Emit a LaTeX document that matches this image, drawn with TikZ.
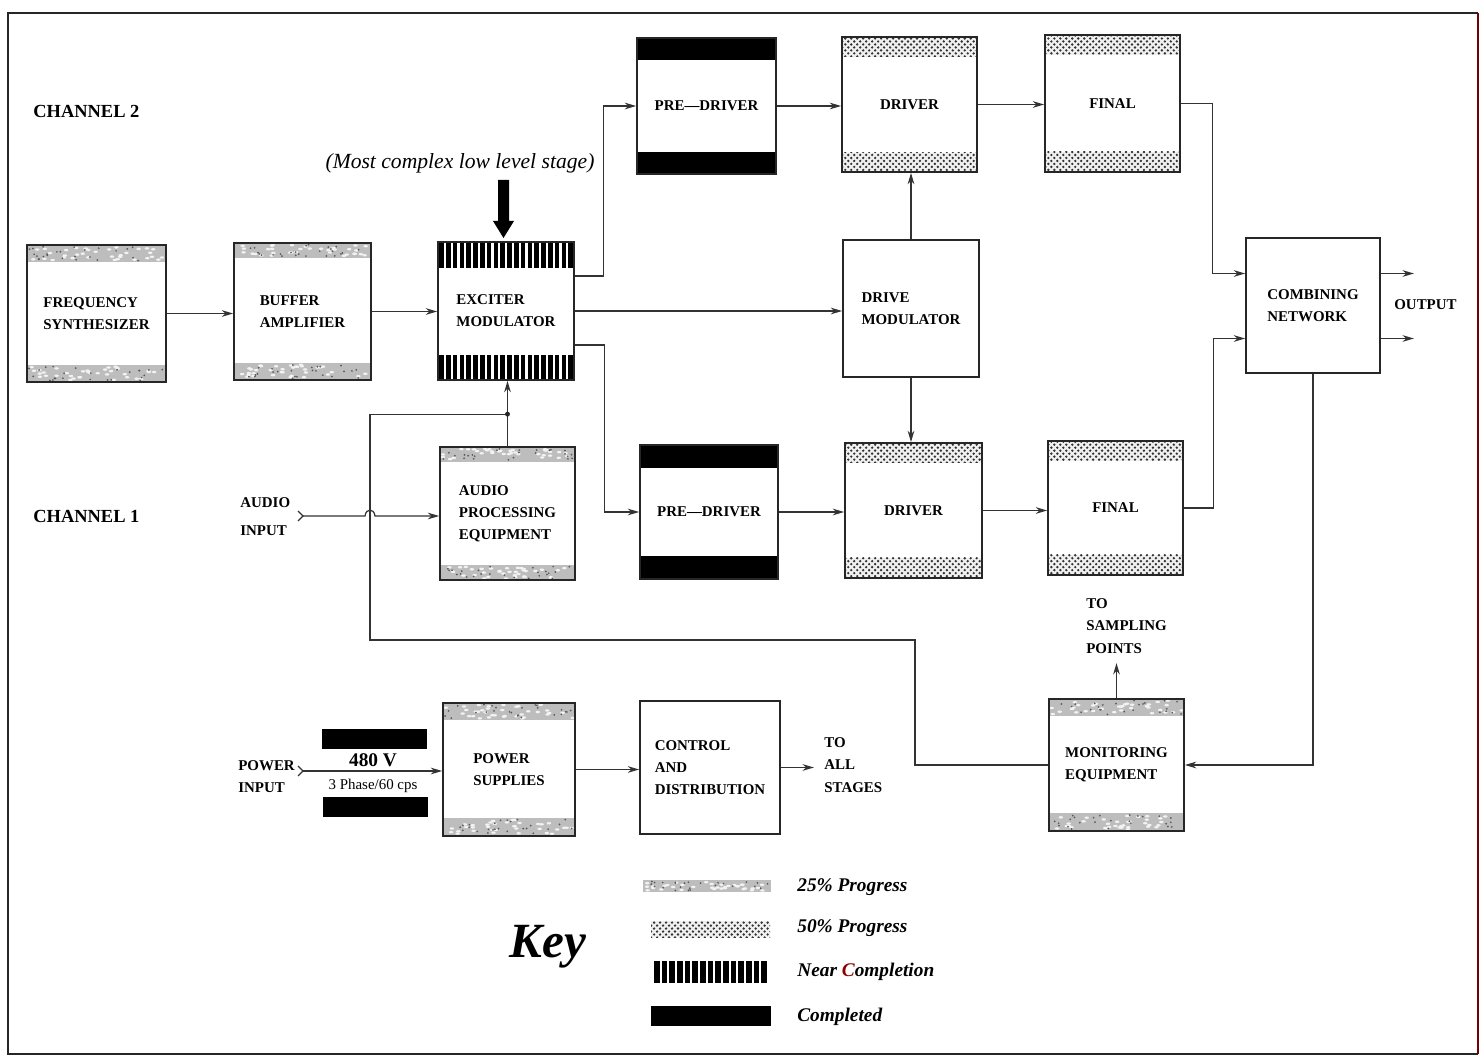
\documentclass[tikz,border=0pt]{standalone}
\usepackage{fontspec}
\setmainfont{Liberation Serif}
\usetikzlibrary{arrows.meta,calc,patterns}
\pgfdeclarepatternformonly{bigdots}{\pgfqpoint{-1pt}{-1pt}}{\pgfqpoint{4pt}{4pt}}{\pgfqpoint{3.4pt}{3.4pt}}{%
  \pgfpathcircle{\pgfqpoint{0pt}{0pt}}{0.75pt}%
  \pgfpathcircle{\pgfqpoint{1.7pt}{1.7pt}}{0.75pt}%
  \pgfusepath{fill}}
\newcommand\boxfont{\bfseries\fontsize{8.5}{12.6}\selectfont}
\newcommand\chfont{\bfseries\fontsize{10.5}{12}\selectfont}
\newcommand\keyfont{\bfseries\itshape\fontsize{11}{13}\selectfont}
% 25% progress band (grainy grey)
\newcommand\bandA[4]{\fill[gray!52] (#1,#2) rectangle (#3,#4);
  \foreach \k in {1,...,35}{\pgfmathsetmacro\rx{#1+2+rnd*(#3-#1-4)}\pgfmathsetmacro\ry{#2+1.5+rnd*(#4-#2-3)}%
    \fill[white!90!gray] (\rx,\ry) ellipse (1.3pt and 0.7pt);}
  \foreach \k in {1,...,25}{\pgfmathsetmacro\rx{#1+2+rnd*(#3-#1-4)}\pgfmathsetmacro\ry{#2+1.5+rnd*(#4-#2-3)}%
    \fill[black!65] (\rx,\ry) circle (0.55pt);}}
% 50% progress band (dots)
\newcommand\bandB[4]{\fill[gray!12] (#1,#2) rectangle (#3,#4);
  \fill[pattern=bigdots, pattern color=black!80] (#1,#2) rectangle (#3,#4);}
% near completion band (vertical stripes)
\newcommand\bandC[5]{\pgfmathsetmacro\stpw{(#3-#1)/#5}%
  \foreach \i in {1,...,#5}{\fill[black] ({#1+(\i-1)*\stpw+1.1},#2) rectangle ({#1+\i*\stpw-1.1},#4);}}
% completed band
\newcommand\bandD[4]{\fill[black] (#1,#2) rectangle (#3,#4);}
\newcommand\mkbox[6]{\node[blk, minimum width={(#4-#2)*0.02cm}, minimum height={(#5-#3)*0.02cm}] (#1) at ({(#2+#4)/2},{(#3+#5)/2}) {#6};}
\begin{document}
\begin{tikzpicture}[x=0.02cm,y=-0.02cm,
  blk/.style={draw=black!85, line width=1pt, inner sep=0pt, align=left, font=\boxfont},
  conn/.style={draw=black!80, line width=0.7pt, -{Stealth[length=6.5pt,width=3.8pt]}},
  wire/.style={draw=black!80, line width=0.7pt},
  lbl/.style={font=\boxfont, align=left, inner sep=0pt, anchor=west},
]
\pgfmathsetseed{7}
\useasboundingbox (0,0) rectangle (1482,1057);
\fill[white] (0,0) rectangle (1482,1057);
% frame
\draw[line width=1.1pt, black!85] (1478,13) -- (8,13) -- (8,1054) -- (1478,1054);
\draw[line width=1.1pt, red!45!black] (1478,13) -- (1478,1054);

% ---- progress bands ----
\bandA{27}{245}{166}{262}\bandA{27}{365}{166}{382}
\bandA{234}{243}{371}{258}\bandA{234}{363}{371}{380}
\bandC{438}{242}{574}{268}{20}\bandC{438}{355}{574}{380}{20}
\bandD{637}{38}{776}{60}\bandD{637}{152}{776}{174}
\bandB{842}{37}{977}{57}\bandB{842}{153}{977}{172}
\bandB{1045}{35}{1180}{55}\bandB{1045}{152}{1180}{172}
\bandA{440}{447}{575}{462}\bandA{440}{565}{575}{580}
\bandD{640}{445}{778}{468}\bandD{640}{556}{778}{579}
\bandB{845}{443}{982}{463}\bandB{845}{558}{982}{578}
\bandB{1048}{441}{1183}{461}\bandB{1048}{555}{1183}{575}
\bandA{443}{703}{575}{720}\bandA{443}{818}{575}{836}
\bandA{1049}{699}{1184}{716}\bandA{1049}{813}{1184}{831}

% ---- boxes ----
\mkbox{fs}{27}{245}{166}{382}{FREQUENCY\\SYNTHESIZER}
\mkbox{ba}{234}{243}{371}{380}{BUFFER\\AMPLIFIER}
\mkbox{em}{438}{242}{574}{380}{EXCITER\\MODULATOR}
\mkbox{pdb}{637}{38}{776}{174}{PRE—DRIVER}
\mkbox{drb}{842}{37}{977}{172}{DRIVER}
\mkbox{fnb}{1045}{35}{1180}{172}{FINAL}
\mkbox{dm}{843}{240}{979}{377}{DRIVE\\MODULATOR}
\mkbox{cn}{1246}{238}{1380}{373}{COMBINING\\NETWORK}
\mkbox{ap}{440}{447}{575}{580}{AUDIO\\PROCESSING\\EQUIPMENT}
\mkbox{pda}{640}{445}{778}{579}{PRE—DRIVER}
\mkbox{dra}{845}{443}{982}{578}{DRIVER}
\mkbox{fna}{1048}{441}{1183}{575}{FINAL}
\mkbox{ps}{443}{703}{575}{836}{POWER\\SUPPLIES}
\mkbox{cd}{640}{701}{780}{834}{CONTROL\\AND\\DISTRIBUTION}
\mkbox{me}{1049}{699}{1184}{831}{MONITORING\\EQUIPMENT}

% ---- labels ----
\node[lbl, font=\chfont] (ch2) at (33,111) {CHANNEL 2};
\node[lbl, font=\chfont] (ch1) at (33,516) {CHANNEL 1};
\node[inner sep=0pt, font=\itshape\fontsize{12.3}{14}\selectfont] (note) at (460,163) {(Most complex low level stage)};
\node[lbl] (audin) at (240,517) {AUDIO\\[3.3pt]INPUT};
\node[lbl] (powin) at (238,777) {POWER\\INPUT};
\node[lbl] (out) at (1394,305) {OUTPUT};
\node[lbl] (tall) at (824,765) {TO\\ALL\\STAGES};
\node[lbl] (tsmp) at (1086,626) {TO\\SAMPLING\\POINTS};
\node[inner sep=0pt, font=\bfseries\fontsize{11}{13}\selectfont] (v480) at (373,760) {480 V};
\node[inner sep=0pt, font=\fontsize{8.5}{10}\selectfont] (phase) at (373,786) {3 Phase/60 cps};
\fill[black] (322,729) rectangle (427,749);
\fill[black] (323,797) rectangle (428,817);

% big arrow to exciter
\fill[black] (498,180) -- (509,180) -- (509,221) -- (514,221) -- (503.5,238) -- (493,221) -- (498,221) -- cycle;

% ---- connectors ----
\draw[conn] (fs.east) -- (fs.east -| ba.west);
\draw[conn] (ba.east) -- (ba.east -| em.west);
\draw[conn] ($(em.east)+(0,-35)$) -| ($(pdb.west)+(-33,0)$) -- (pdb.west);
\draw[conn] (em.east) -- (em.east -| dm.west);
\draw[conn] ($(em.east)+(0,34)$) -| ($(pda.west)+(-35,0)$) -- (pda.west);
\draw[conn] (pdb.east) -- (pdb.east -| drb.west);
\draw[conn] (drb.east) -- (drb.east -| fnb.west);
\draw[conn] (fnb.east) -| ($(cn.west)+(-33,-32)$) -- ($(cn.west)+(0,-32)$);
\draw[conn] (fna.east) -| ($(cn.west)+(-32,33)$) -- ($(cn.west)+(0,33)$);
\coordinate (o1) at ($(cn.east)+(33,-32)$);
\coordinate (o2) at ($(cn.east)+(33,33)$);
\draw[conn] ($(cn.east)+(0,-32)$) -- (o1);
\draw[conn] ($(cn.east)+(0,33)$) -- (o2);
\draw[conn] (dm.north) -- (dm.north |- drb.south);
\draw[conn] (dm.south) -- (dm.south |- dra.north);
\draw[conn] (pda.east) -- (pda.east -| dra.west);
\draw[conn] (dra.east) -- (dra.east -| fna.west);
\draw[conn] (cn.south) |- (me.east);
% feedback from monitoring to exciter
\coordinate (fb1) at (915,640);
\coordinate (fb2) at (370,640);
\coordinate (jn) at ($(ap.north)+(0,-32)$);
\draw[wire] (me.west) -| (fb1) -- (fb2) |- (jn);
\draw[wire] (ap.north) -- (jn);
\draw[conn] (jn) -- (jn |- em.south);
\fill[black!85] (jn) circle (1.4pt);
% audio input
\coordinate (ain) at (303,516);
\draw[wire] (ain) ++(-5,-5) -- (ain) -- ++(-5,5);
\draw[conn] (ain) -- (365,516) .. controls (366,508) and (374,508) .. (375,516) -- (ain -| ap.west);
% power input
\coordinate (pin) at (303,771);
\draw[wire] (pin) ++(-5,-5) -- (pin) -- ++(-5,5);
\draw[conn] (pin) -- (pin -| ps.west);
\draw[conn] (ps.east) -- (ps.east -| cd.west);
\coordinate (cdo) at ($(cd.east)+(33,0)$);
\draw[conn] (cd.east) -- (cdo);
\coordinate (smp) at ($(me.north)+(0,-35)$);
\draw[conn] (me.north) -- (smp);

% ---- key ----
\node[inner sep=0pt, font=\bfseries\itshape\fontsize{28}{30}\selectfont] (key) at (548,947) {Key};
\bandA{643}{880}{771}{892}
\bandB{651}{921}{770}{937}
\bandC{653}{961}{768}{983}{15}
\bandD{651}{1006}{771}{1026}
\node[lbl, font=\keyfont] (k1) at (797,887) {25\% Progress};
\node[lbl, font=\keyfont] (k2) at (797,928) {50\% Progress};
\node[lbl, font=\keyfont] (k3) at (797,972) {Near \textcolor{red!55!black}{C}ompletion};
\node[lbl, font=\keyfont] (k4) at (797,1017) {Completed};
\end{tikzpicture}
\end{document}
